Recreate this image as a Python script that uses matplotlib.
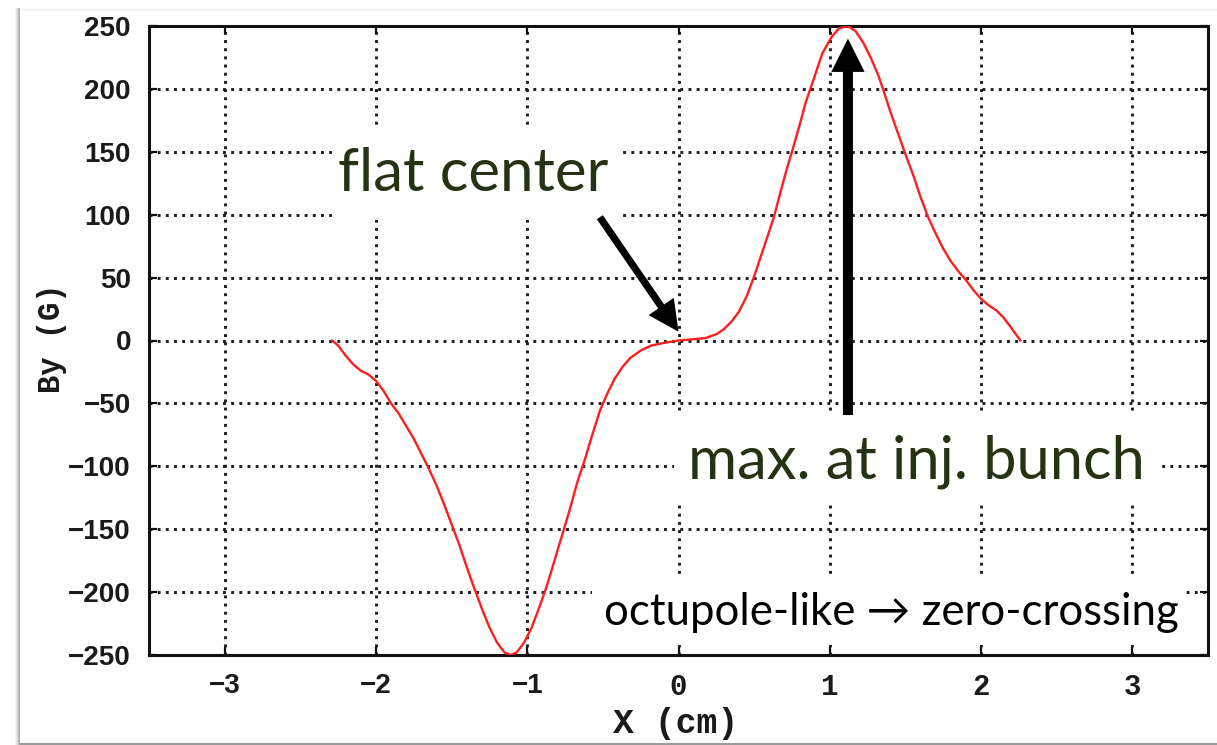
import matplotlib
matplotlib.use("Agg")
import matplotlib.pyplot as plt
from matplotlib.patches import Rectangle, FancyArrowPatch
from matplotlib.lines import Line2D

# Vertical field component By (G) versus horizontal position X (cm)
x_cm = [-2.29, -2.25, -2.20, -2.15, -2.10, -2.05, -2.00, -1.95, -1.90, -1.85,
        -1.80, -1.75, -1.70, -1.65, -1.60, -1.55, -1.50, -1.45, -1.40, -1.35,
        -1.30, -1.25, -1.20, -1.15, -1.11, -1.07, -1.02, -0.97, -0.92, -0.87,
        -0.82, -0.77, -0.72, -0.67, -0.62, -0.57, -0.52, -0.47, -0.42, -0.37,
        -0.32, -0.25, -0.18, -0.10, 0.00,
        0.10, 0.18, 0.25, 0.30, 0.35, 0.40, 0.45, 0.50, 0.55, 0.60,
        0.63, 0.67, 0.71, 0.75, 0.80, 0.84, 0.90, 0.95, 1.01, 1.06,
        1.12, 1.17, 1.22, 1.27, 1.32, 1.36, 1.40, 1.45, 1.50, 1.55,
        1.60, 1.65, 1.70, 1.75, 1.80, 1.85, 1.90, 1.95, 2.00, 2.05,
        2.10, 2.15, 2.20, 2.26]
by_gauss = [0, -4, -12, -19, -24, -27, -32, -40, -50, -58,
            -68, -78, -90, -102, -115, -130, -146, -162, -180, -197,
            -213, -228, -240, -248, -250, -248, -240, -228, -212, -195,
            -175, -155, -135, -113, -95, -75, -56, -42, -30, -21,
            -14, -8, -4, -2, 0,
            1, 2, 5, 9, 15, 23, 35, 51, 69, 87,
            98, 116, 134, 150, 171, 189, 210, 228, 241, 248,
            250, 246, 237, 225, 211, 197, 182, 165, 148, 132,
            114, 98, 85, 73, 63, 55, 48, 40, 33, 28,
            24, 18, 10, 0]

x_ticks = [-3, -2, -1, 0, 1, 2, 3]
y_ticks = [-250, -200, -150, -100, -50, 0, 50, 100, 150, 200, 250]

label_flat = "flat center"
label_max = "max. at inj. bunch"
label_octu = "octupole-like \u2192 zero-crossing"

W, H = 1217, 745
fig = plt.figure(figsize=(W / 100, H / 100), dpi=100)
fig.patch.set_facecolor("white")

# slide panel edges: soft shadow on the left, thin grey rule at the bottom
for i, a in enumerate([0.05, 0.10, 0.16, 0.24, 0.32]):
    fig.add_artist(Rectangle((((15 + i) / W), 0), 1 / W, 1 - 8 / H,
                             transform=fig.transFigure, color="black",
                             alpha=a, lw=0, zorder=0))
fig.add_artist(Rectangle((20 / W, 0), (W - 20) / W, 2.5 / H,
                         transform=fig.transFigure, color="#9a9a9a", lw=0))
fig.add_artist(Line2D([20 / W, 1], [1 - 9 / H, 1 - 9 / H],
                      transform=fig.transFigure, color="#eeeeee", lw=1))

ax = fig.add_axes([149 / W, 1 - 655 / H, (1208 - 149) / W, (655 - 26) / H])
ax.set_xlim(-3.5, 3.5)
ax.set_ylim(-250, 250)
ax.set_xticks(x_ticks)
ax.set_yticks(y_ticks)
ax.set_xticklabels([f"{t:d}".replace("-", "\u2212") for t in x_ticks])
ax.set_yticklabels([f"{t:d}".replace("-", "\u2212") for t in y_ticks])

ax.grid(True, color="#1e1e1e", linestyle=(0, (1.0, 1.8)), linewidth=2.1)
ax.set_axisbelow(True)
for s in ax.spines.values():
    s.set_linewidth(2.2)
    s.set_color("#111111")
ax.tick_params(direction="in", length=6, width=1.6, top=True, right=True,
               colors="#111111")
ax.tick_params(axis="y", pad=13)
ax.tick_params(axis="x", pad=13)

for lab in ax.get_yticklabels():
    lab.set_fontfamily("Liberation Sans")
    lab.set_fontweight("bold")
    lab.set_fontsize(20)
    lab.set_color("#1a1a1a")
for t, lab in zip(x_ticks, ax.get_xticklabels()):
    if t < 0:
        lab.set_fontfamily("Liberation Sans")
        lab.set_fontsize(20)
    else:
        lab.set_fontfamily("Liberation Mono")
        lab.set_fontsize(21)
    lab.set_fontweight("bold")
    lab.set_color("#1a1a1a")

ax.set_xlabel("X (cm)", fontfamily="Liberation Mono", fontweight="bold",
              fontsize=25, color="#1a1a1a", va="center")
ax.xaxis.set_label_coords(0.497, -0.109)
ax.set_ylabel("By (G)", fontfamily="Liberation Mono", fontweight="bold",
              fontsize=22, color="#1a1a1a", va="center")
ax.yaxis.set_label_coords(-0.0916, 0.503)

ax.plot(x_cm, by_gauss, color="#ff1e1e", lw=1.7, zorder=3)

# white boxes behind the callouts
boxes = [(-2.29, 96, -0.39, 170), (-0.03, -131, 3.17, -59), (-0.57, -242, 3.34, -189)]
for x0, y0, x1, y1 in boxes:
    ax.add_patch(Rectangle((x0, y0), x1 - x0, y1 - y0, facecolor="white",
                           edgecolor="none", zorder=5))

# arrows
ax.add_patch(FancyArrowPatch((-0.52, 98), (0.0, 7),
                             arrowstyle="simple,head_length=1.1,head_width=1.1,tail_width=0.26",
                             mutation_scale=20, color="black", lw=0,
                             shrinkA=0, shrinkB=0, zorder=6))
ax.add_patch(FancyArrowPatch((1.12, -62), (1.12, 240),
                             arrowstyle="simple,head_length=1.2,head_width=1.2,tail_width=0.36",
                             mutation_scale=20, color="black", lw=0,
                             shrinkA=0, shrinkB=0, zorder=4))

green = "#263312"
fam = ["Lato", "DejaVu Sans"]
t1 = ax.text(-1.36, 132, label_flat, ha="center", va="center", color=green,
             fontfamily=fam, fontsize=36, zorder=7)
t2 = ax.text(1.57, -96, label_max, ha="center", va="center", color=green,
             fontfamily=fam, fontsize=36, zorder=7)
t3 = ax.text(1.41, -216, label_octu, ha="center", va="center", color="black",
             fontfamily=fam, fontsize=24, zorder=7)

# scale the callout fonts to their target pixel widths
fig.canvas.draw()
r = fig.canvas.get_renderer()
for t, target in [(t1, 271), (t2, 457), (t3, 575)]:
    w = t.get_window_extent(r).width
    t.set_fontsize(t.get_fontsize() * target / w)

fig.savefig("out.png", dpi=100, facecolor="white")
